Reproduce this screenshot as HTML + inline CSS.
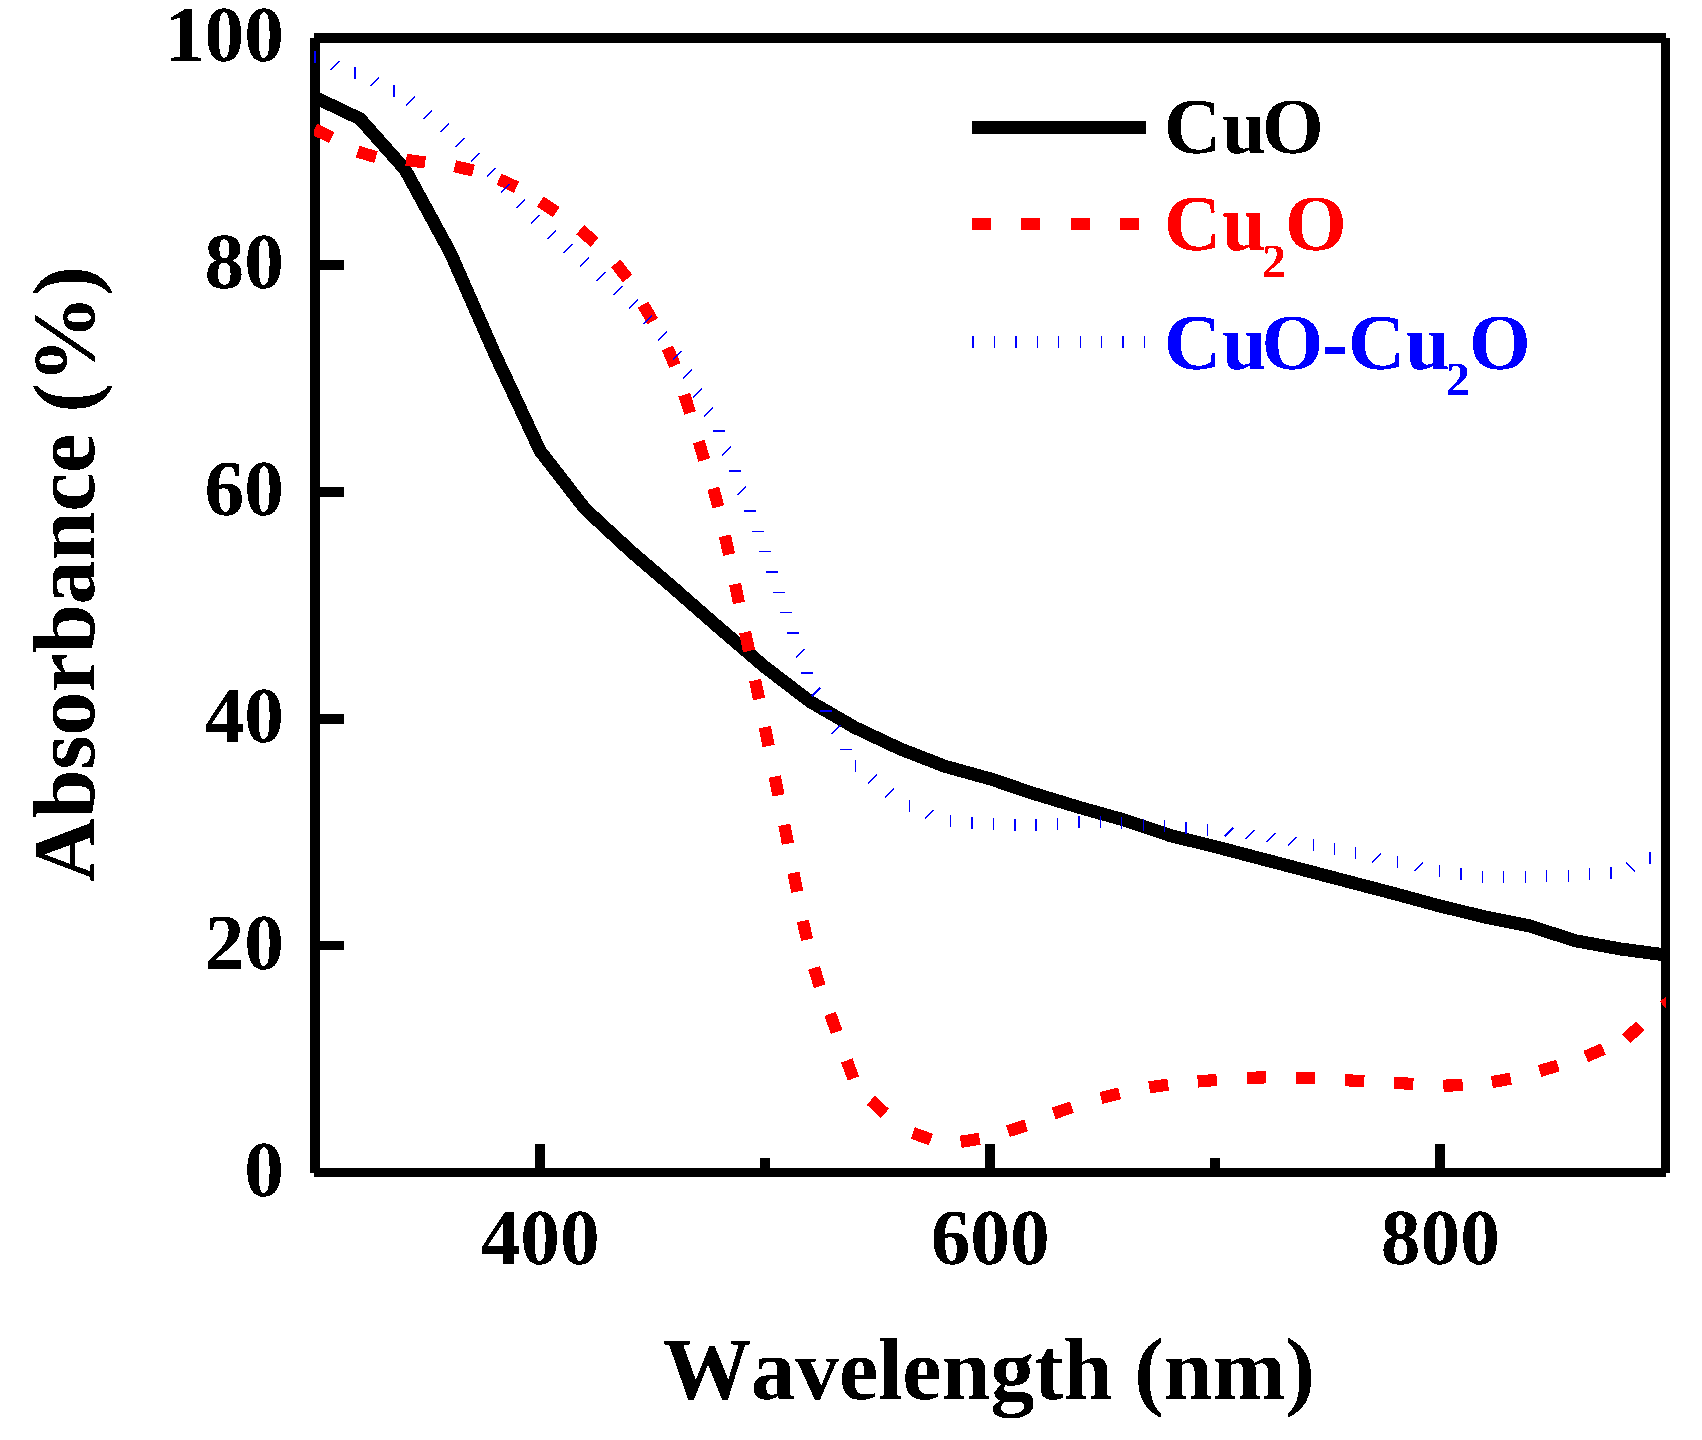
<!DOCTYPE html>
<html lang="en"><head><meta charset="utf-8"><title>UV-vis absorbance</title>
<style>html,body{margin:0;padding:0;background:#fff;}body{width:1702px;height:1440px;overflow:hidden;}svg{display:block;}text{font-family:"Liberation Serif","Times New Roman",serif;font-weight:bold;font-kerning:none;text-rendering:geometricPrecision;}</style>
</head><body>
<svg width="1702" height="1440" viewBox="0 0 1702 1440" shape-rendering="crispEdges">
<defs><clipPath id="plot"><rect x="314" y="38" width="1352" height="1135"/></clipPath><filter id="crisp" x="-5%" y="-20%" width="110%" height="140%" color-interpolation-filters="sRGB"><feComponentTransfer><feFuncA type="discrete" tableValues="0 1"/></feComponentTransfer></filter></defs>
<rect width="1702" height="1440" fill="#fff"/>
<g fill="#000">
<rect x="310" y="38" width="10" height="1135"/>
<rect x="1661" y="38" width="9" height="1135"/>
<rect x="314" y="33" width="1352" height="10"/>
<rect x="314" y="1168" width="1352" height="9"/>
<rect x="315" y="260" width="29" height="10"/>
<rect x="315" y="487" width="29" height="10"/>
<rect x="315" y="714" width="29" height="10"/>
<rect x="315" y="941" width="29" height="9"/>
<rect x="535" y="1144" width="10" height="26"/>
<rect x="985" y="1144" width="10" height="26"/>
<rect x="1435" y="1144" width="10" height="26"/>
<rect x="760" y="1158" width="10" height="12"/>
<rect x="1210" y="1158" width="10" height="12"/>
</g>
<g clip-path="url(#plot)">
<polyline fill="none" stroke="#000" stroke-width="13" stroke-linejoin="miter" points="315.0,97.4 360.0,118.8 405.0,169.4 450.0,252.0 495.0,354.4 540.0,450.7 585.0,508.8 630.0,550.5 675.0,589.2 720.0,628.6 765.0,667.1 810.0,701.5 855.0,727.6 900.0,748.8 945.0,766.3 990.0,778.8 1035.0,793.9 1080.0,807.6 1125.0,820.2 1170.0,835.5 1215.0,846.6 1260.0,858.4 1305.0,870.2 1350.0,882.0 1395.0,893.8 1440.0,906.0 1485.0,917.0 1530.0,926.0 1575.0,940.7 1620.0,948.9 1665.5,955.0"/>
<g fill="#ff0000">
<rect x="-9.6" y="-6.1" width="19.2" height="12.2" transform="translate(323.0 133.4) rotate(25.6)"/>
<rect x="-9.6" y="-6.1" width="19.2" height="12.2" transform="translate(366.8 154.4) rotate(16.7)"/>
<rect x="-9.6" y="-6.1" width="19.2" height="12.2" transform="translate(415.6 161.2) rotate(8.2)"/>
<rect x="-9.6" y="-6.1" width="19.2" height="12.2" transform="translate(464.0 168.4) rotate(13.4)"/>
<rect x="-9.6" y="-6.1" width="19.2" height="12.2" transform="translate(507.8 183.2) rotate(24.6)"/>
<rect x="-9.6" y="-6.1" width="19.2" height="12.2" transform="translate(548.3 207.0) rotate(33.6)"/>
<rect x="-9.6" y="-6.1" width="19.2" height="12.2" transform="translate(587.4 236.0) rotate(41.1)"/>
<rect x="-9.6" y="-6.1" width="19.2" height="12.2" transform="translate(621.7 271.0) rotate(51.8)"/>
<rect x="-9.6" y="-6.1" width="19.2" height="12.2" transform="translate(647.9 312.9) rotate(60.0)"/>
<rect x="-9.6" y="-6.1" width="19.2" height="12.2" transform="translate(671.2 356.7) rotate(66.6)"/>
<rect x="-9.6" y="-6.1" width="19.2" height="12.2" transform="translate(687.2 403.8) rotate(72.2)"/>
<rect x="-9.6" y="-6.1" width="19.2" height="12.2" transform="translate(701.5 450.8) rotate(73.0)"/>
<rect x="-9.6" y="-6.1" width="19.2" height="12.2" transform="translate(715.8 497.6) rotate(74.9)"/>
<rect x="-9.6" y="-6.1" width="19.2" height="12.2" transform="translate(727.0 545.2) rotate(77.5)"/>
<rect x="-9.6" y="-6.1" width="19.2" height="12.2" transform="translate(737.0 593.5) rotate(78.2)"/>
<rect x="-9.6" y="-6.1" width="19.2" height="12.2" transform="translate(747.1 641.6) rotate(78.2)"/>
<rect x="-9.6" y="-6.1" width="19.2" height="12.2" transform="translate(757.1 689.6) rotate(78.3)"/>
<rect x="-9.6" y="-6.1" width="19.2" height="12.2" transform="translate(766.7 736.5) rotate(78.6)"/>
<rect x="-9.6" y="-6.1" width="19.2" height="12.2" transform="translate(776.6 785.9) rotate(78.8)"/>
<rect x="-9.6" y="-6.1" width="19.2" height="12.2" transform="translate(786.1 834.2) rotate(79.0)"/>
<rect x="-9.6" y="-6.1" width="19.2" height="12.2" transform="translate(795.4 882.2) rotate(78.9)"/>
<rect x="-9.6" y="-6.1" width="19.2" height="12.2" transform="translate(804.9 930.3) rotate(77.2)"/>
<rect x="-9.6" y="-6.1" width="19.2" height="12.2" transform="translate(816.9 977.1) rotate(72.9)"/>
<rect x="-9.6" y="-6.1" width="19.2" height="12.2" transform="translate(833.4 1022.9) rotate(70.2)"/>
<rect x="-9.6" y="-6.1" width="19.2" height="12.2" transform="translate(850.1 1069.5) rotate(70.0)"/>
<rect x="-9.6" y="-6.1" width="19.2" height="12.2" transform="translate(877.8 1106.8) rotate(42.9)"/>
<rect x="-9.6" y="-6.1" width="19.2" height="12.2" transform="translate(921.9 1136.3) rotate(19.9)"/>
<rect x="-9.6" y="-6.1" width="19.2" height="12.2" transform="translate(970.2 1140.3) rotate(-9.0)"/>
<rect x="-9.6" y="-6.1" width="19.2" height="12.2" transform="translate(1017.0 1128.3) rotate(-18.0)"/>
<rect x="-9.6" y="-6.1" width="19.2" height="12.2" transform="translate(1062.8 1110.3) rotate(-19.2)"/>
<rect x="-9.6" y="-6.1" width="19.2" height="12.2" transform="translate(1110.4 1095.7) rotate(-14.2)"/>
<rect x="-9.6" y="-6.1" width="19.2" height="12.2" transform="translate(1158.7 1086.0) rotate(-8.8)"/>
<rect x="-9.6" y="-6.1" width="19.2" height="12.2" transform="translate(1207.3 1080.7) rotate(-4.9)"/>
<rect x="-9.6" y="-6.1" width="19.2" height="12.2" transform="translate(1256.6 1077.6) rotate(-1.5)"/>
<rect x="-9.6" y="-6.1" width="19.2" height="12.2" transform="translate(1305.4 1078.1) rotate(1.8)"/>
<rect x="-9.6" y="-6.1" width="19.2" height="12.2" transform="translate(1354.7 1080.7) rotate(3.1)"/>
<rect x="-9.6" y="-6.1" width="19.2" height="12.2" transform="translate(1403.8 1083.4) rotate(2.7)"/>
<rect x="-9.6" y="-6.1" width="19.2" height="12.2" transform="translate(1453.0 1085.4) rotate(-1.8)"/>
<rect x="-9.6" y="-6.1" width="19.2" height="12.2" transform="translate(1501.3 1080.4) rotate(-10.1)"/>
<rect x="-9.6" y="-6.1" width="19.2" height="12.2" transform="translate(1548.8 1068.3) rotate(-16.5)"/>
<rect x="-9.6" y="-6.1" width="19.2" height="12.2" transform="translate(1594.6 1052.8) rotate(-23.1)"/>
<rect x="-9.6" y="-6.1" width="19.2" height="12.2" transform="translate(1633.2 1032.3) rotate(-43.0)"/>
<rect x="-9.6" y="-6.1" width="19.2" height="12.2" transform="translate(1671.2 1000.0) rotate(-40.4)"/>
</g>
<g stroke="#0000ff" stroke-width="1.5" fill="none">
<line x1="315.0" y1="50.8" x2="315.0" y2="62.8"/>
<line x1="330.6" y1="69.9" x2="339.4" y2="61.1"/>
<line x1="354.8" y1="66.6" x2="354.8" y2="78.6"/>
<line x1="370.2" y1="86.2" x2="379.0" y2="77.4"/>
<line x1="393.9" y1="85.3" x2="393.9" y2="97.3"/>
<line x1="406.2" y1="105.7" x2="415.0" y2="96.9"/>
<line x1="423.3" y1="119.0" x2="432.1" y2="110.2"/>
<line x1="440.3" y1="132.0" x2="449.1" y2="123.2"/>
<line x1="455.8" y1="147.0" x2="464.6" y2="138.2"/>
<line x1="470.8" y1="161.6" x2="479.6" y2="152.8"/>
<line x1="486.6" y1="176.6" x2="495.4" y2="167.8"/>
<line x1="500.9" y1="192.6" x2="509.7" y2="183.8"/>
<line x1="516.4" y1="208.4" x2="525.2" y2="199.6"/>
<line x1="530.9" y1="223.9" x2="539.7" y2="215.1"/>
<line x1="547.2" y1="239.2" x2="556.0" y2="230.4"/>
<line x1="563.4" y1="252.7" x2="572.2" y2="243.9"/>
<line x1="580.2" y1="266.7" x2="589.0" y2="257.9"/>
<line x1="596.7" y1="281.0" x2="605.5" y2="272.2"/>
<line x1="613.5" y1="294.7" x2="622.3" y2="285.9"/>
<line x1="629.3" y1="308.5" x2="638.1" y2="299.7"/>
<line x1="643.5" y1="324.3" x2="652.3" y2="315.5"/>
<line x1="658.1" y1="340.5" x2="666.9" y2="331.7"/>
<line x1="672.8" y1="359.8" x2="681.6" y2="351.0"/>
<line x1="683.1" y1="378.6" x2="691.9" y2="369.8"/>
<line x1="693.3" y1="397.4" x2="702.1" y2="388.6"/>
<line x1="703.9" y1="416.2" x2="712.7" y2="407.4"/>
<line x1="712.5" y1="430.8" x2="724.5" y2="430.8"/>
<line x1="722.1" y1="455.2" x2="730.9" y2="446.4"/>
<line x1="728.5" y1="470.9" x2="740.5" y2="470.9"/>
<line x1="737.6" y1="495.3" x2="746.4" y2="486.5"/>
<line x1="744.1" y1="511.2" x2="756.1" y2="511.2"/>
<line x1="751.6" y1="531.4" x2="763.6" y2="531.4"/>
<line x1="759.3" y1="551.5" x2="771.3" y2="551.5"/>
<line x1="766.3" y1="572.0" x2="778.3" y2="572.0"/>
<line x1="773.3" y1="592.3" x2="785.3" y2="592.3"/>
<line x1="780.4" y1="612.5" x2="792.4" y2="612.5"/>
<line x1="786.9" y1="632.8" x2="798.9" y2="632.8"/>
<line x1="796.0" y1="657.7" x2="804.8" y2="648.9"/>
<line x1="800.9" y1="673.1" x2="812.9" y2="673.1"/>
<line x1="811.5" y1="696.5" x2="820.3" y2="687.7"/>
<line x1="819.9" y1="711.2" x2="831.9" y2="711.2"/>
<line x1="831.5" y1="734.0" x2="840.3" y2="725.2"/>
<line x1="840.4" y1="749.3" x2="852.4" y2="749.3"/>
<line x1="855.4" y1="759.8" x2="855.4" y2="771.8"/>
<line x1="868.3" y1="783.5" x2="877.1" y2="774.7"/>
<line x1="885.1" y1="797.5" x2="893.9" y2="788.7"/>
<line x1="909.5" y1="799.6" x2="909.5" y2="811.6"/>
<line x1="924.6" y1="818.5" x2="933.4" y2="809.7"/>
<line x1="950.6" y1="815.2" x2="950.6" y2="827.2"/>
<line x1="972.1" y1="817.2" x2="972.1" y2="829.2"/>
<line x1="993.6" y1="818.4" x2="993.6" y2="830.4"/>
<line x1="1014.9" y1="819.2" x2="1014.9" y2="831.2"/>
<line x1="1035.9" y1="819.2" x2="1035.9" y2="831.2"/>
<line x1="1057.4" y1="817.9" x2="1057.4" y2="829.9"/>
<line x1="1079.0" y1="815.9" x2="1079.0" y2="827.9"/>
<line x1="1100.5" y1="816.2" x2="1100.5" y2="828.2"/>
<line x1="1121.6" y1="816.6" x2="1121.6" y2="828.6"/>
<line x1="1143.3" y1="818.6" x2="1143.3" y2="830.6"/>
<line x1="1164.6" y1="819.6" x2="1164.6" y2="831.6"/>
<line x1="1186.1" y1="821.6" x2="1186.1" y2="833.6"/>
<line x1="1207.6" y1="823.6" x2="1207.6" y2="835.6"/>
<line x1="1224.5" y1="836.5" x2="1233.3" y2="827.7"/>
<line x1="1245.8" y1="839.0" x2="1254.6" y2="830.2"/>
<line x1="1266.8" y1="842.0" x2="1275.6" y2="833.2"/>
<line x1="1287.8" y1="845.6" x2="1296.6" y2="836.8"/>
<line x1="1313.5" y1="838.9" x2="1313.5" y2="850.9"/>
<line x1="1334.5" y1="842.6" x2="1334.5" y2="854.6"/>
<line x1="1355.4" y1="847.3" x2="1355.4" y2="859.3"/>
<line x1="1371.9" y1="862.3" x2="1380.7" y2="853.5"/>
<line x1="1397.4" y1="856.4" x2="1397.4" y2="868.4"/>
<line x1="1414.1" y1="871.1" x2="1422.9" y2="862.3"/>
<line x1="1439.4" y1="864.7" x2="1439.4" y2="876.7"/>
<line x1="1460.8" y1="867.7" x2="1460.8" y2="879.7"/>
<line x1="1482.5" y1="870.6" x2="1482.5" y2="882.6"/>
<line x1="1503.5" y1="870.9" x2="1503.5" y2="882.9"/>
<line x1="1525.3" y1="870.9" x2="1525.3" y2="882.9"/>
<line x1="1546.6" y1="870.3" x2="1546.6" y2="882.3"/>
<line x1="1568.4" y1="869.8" x2="1568.4" y2="881.8"/>
<line x1="1589.6" y1="868.3" x2="1589.6" y2="880.3"/>
<line x1="1611.2" y1="866.6" x2="1611.2" y2="878.6"/>
<line x1="1626.0" y1="862.7" x2="1634.8" y2="871.5"/>
<line x1="1650.2" y1="851.6" x2="1650.2" y2="863.6"/>
</g>
</g>
<g filter="url(#crisp)">
<g font-size="79.4" fill="#000" shape-rendering="auto">
<text x="284" y="1196.0" text-anchor="end">0</text>
<text x="284" y="969.1" text-anchor="end">20</text>
<text x="284" y="742.2" text-anchor="end">40</text>
<text x="284" y="515.3" text-anchor="end">60</text>
<text x="284" y="288.4" text-anchor="end">80</text>
<text x="284" y="60.8" text-anchor="end">100</text>
<text x="540.1" y="1264.4" text-anchor="middle">400</text>
<text x="990.2" y="1264.4" text-anchor="middle">600</text>
<text x="1440.4" y="1264.4" text-anchor="middle">800</text>
</g>
<text x="989" y="1398.5" font-size="88.3" text-anchor="middle" textLength="652" lengthAdjust="spacing">Wavelength (nm)</text>
<text transform="translate(94 574) rotate(-90)" font-size="88.3" text-anchor="middle" textLength="616" lengthAdjust="spacing">Absorbance (%)</text>
<rect x="972" y="121" width="174" height="13" fill="#000"/>
<g fill="#ff0000">
<rect x="972.0" y="218" width="19" height="12"/>
<rect x="1021.0" y="218" width="19" height="12"/>
<rect x="1071.0" y="218" width="19" height="12"/>
<rect x="1120.0" y="218" width="19" height="12"/>
</g>
<g fill="#0000ff">
<rect x="972" y="336" width="2" height="12"/>
<rect x="994" y="336" width="1" height="12"/>
<rect x="1015" y="336" width="2" height="12"/>
<rect x="1037" y="336" width="1" height="12"/>
<rect x="1058" y="336" width="1" height="12"/>
<rect x="1080" y="336" width="1" height="12"/>
<rect x="1101" y="336" width="1" height="12"/>
<rect x="1122" y="336" width="2" height="12"/>
<rect x="1144" y="336" width="1" height="12"/>
</g>
<g font-size="79.4">
<text y="153.2" fill="#000" x="1163.9 1222.0 1262.1">CuO</text>
<text y="250.3" fill="#ff0000"><tspan x="1163.9 1222.0">Cu</tspan><tspan font-size="47.7" x="1262.3" dy="26.6">2</tspan><tspan x="1285.1" dy="-26.6">O</tspan></text>
<text y="368.7" fill="#0000ff"><tspan x="1163.9 1222.3 1261.6 1321.8 1348.0 1405.5">CuO-Cu</tspan><tspan font-size="47.7" x="1446.1" dy="26.7">2</tspan><tspan x="1468.9" dy="-26.7">O</tspan></text>
</g>
</g>
</svg>
</body></html>
